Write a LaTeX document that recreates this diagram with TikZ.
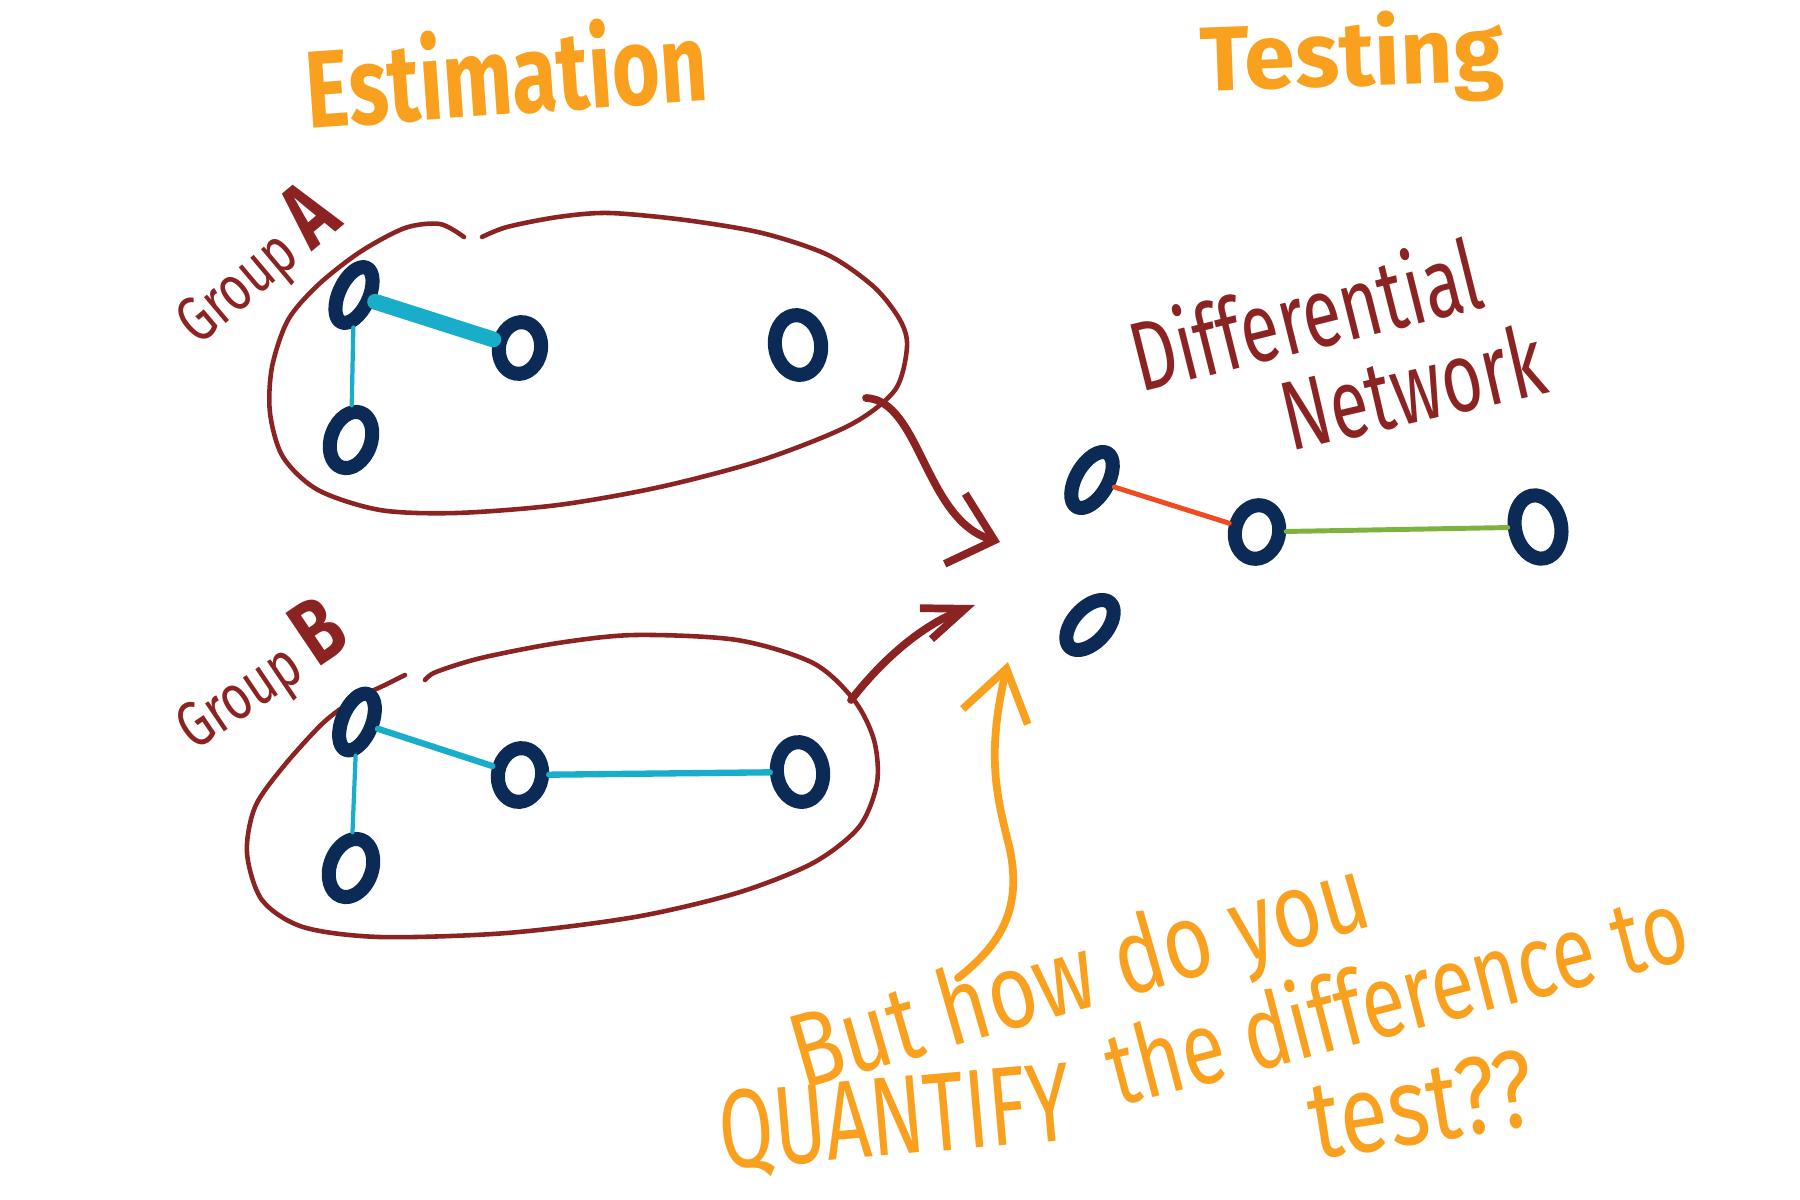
\documentclass[tikz,border=0pt]{standalone}
\usepackage{fontspec}
\setmainfont{Fira Sans}
\usepackage{graphicx}
\usetikzlibrary{arrows.meta,shapes.geometric}
\definecolor{sketchNavy}{HTML}{0B2A55}
\definecolor{sketchWine}{HTML}{8B2323}
\definecolor{sketchOrange}{HTML}{F9A11E}
\definecolor{sketchCyan}{HTML}{18AEC9}
\definecolor{sketchRed}{HTML}{F04A23}
\definecolor{sketchGreen}{HTML}{7DB23C}
\newcommand{\handtext}[3]{\scalebox{#1}[#2]{#3}}

\begin{document}
\begin{tikzpicture}[x=0.1mm,y=-0.1mm, line cap=round, line join=round,
    vtx/.style n args={3}{ellipse, draw=sketchNavy, line width=4pt, inner sep=0pt,
      minimum width=#1, minimum height=#2, rotate=#3},
    tie/.style={draw=sketchCyan, line width=#1},
    blob/.style={draw=sketchWine, line width=1.3pt},
    pointer/.style={draw=sketchWine, line width=2.2pt},
    heading/.style={text=sketchOrange, anchor=base, inner sep=0pt,
      font=\bfseries\fontsize{26}{30}\selectfont},
    redlabel/.style={text=sketchWine, anchor=base west, inner sep=0pt,
      font=\fontsize{14}{16}\selectfont},
    ask/.style={text=sketchOrange, anchor=base west, inner sep=0pt}]
  \fill[white] (0,0) rectangle (1800,1200);
  \useasboundingbox (0,0) rectangle (1800,1200);

  % headings
  \node[heading, rotate=4] (estim) at (509,114) {\handtext{0.9}{1.2}{Estimation}};
  \node[heading, rotate=2] (testing) at (1353,86) {Testing};

  % group A
  \draw[blob] plot[smooth] coordinates {(482,237) (507,227) (558,217) (609,213) (685,220)
    (762,233) (828,255) (874,287) (900,320) (907,347) (895,390) (850,425) (762,460)
    (660,487) (558,505) (456,513) (380,510) (318,490) (283,457) (270,413) (272,367)
    (288,320) (318,285) (360,252) (405,228) (440,224) (464,237)};
  \node[redlabel, rotate=40] (grpA) at (198,347)
    {\handtext{1}{1.3}{Group {\fontsize{20}{22}\selectfont\bfseries A}}};
  \node[vtx={3.0mm}{6.0mm}{-25}] (A1) at (354,295) {};
  \node[vtx={4.2mm}{5.2mm}{-10}] (A2) at (520,348) {};
  \node[vtx={4.6mm}{6.0mm}{8}] (A3) at (798,345) {};
  \node[vtx={4.0mm}{5.8mm}{-20}] (A4) at (351,440) {};
  \draw[tie=4.5pt] (A1) -- (A2);
  \draw[tie=1.2pt] (A1) -- (A4);

  % group B
  \draw[blob] plot[smooth] coordinates {(425,680) (436,672) (481,658) (558,643) (635,635)
    (737,640) (813,663) (854,700) (874,740) (877,783) (859,827) (813,863) (737,893)
    (635,917) (507,933) (380,937) (303,927) (262,900) (247,853) (255,807) (283,767)
    (323,723) (354,700) (385,685) (405,675)};
  \node[redlabel, rotate=34] (grpB) at (194,752)
    {\handtext{1}{1.3}{Group {\fontsize{20}{22}\selectfont\bfseries B}}};
  \node[vtx={3.0mm}{6.0mm}{-22}] (B1) at (357,722) {};
  \node[vtx={4.4mm}{5.4mm}{-10}] (B2) at (520,775) {};
  \node[vtx={4.6mm}{6.0mm}{8}] (B3) at (800,772) {};
  \node[vtx={4.2mm}{6.0mm}{-20}] (B4) at (351,868) {};
  \draw[tie=1.8pt] (B1) -- (B2);
  \draw[tie=1.8pt] (B2) -- (B3);
  \draw[tie=1.2pt] (B1) -- (B4);

  % differential network
  \node[redlabel, font=\fontsize{20}{22}\selectfont, rotate=14] (diffl) at (1140,393)
    {\handtext{1}{1.4}{Differential}};
  \node[redlabel, font=\fontsize{20}{22}\selectfont, rotate=13] (netl) at (1290,452)
    {\handtext{1}{1.4}{Network}};
  \node[vtx={3.2mm}{6.2mm}{-30}] (D1) at (1092,480) {};
  \node[vtx={4.4mm}{5.4mm}{-12}] (D2) at (1257,532) {};
  \node[vtx={4.6mm}{6.4mm}{12}] (D3) at (1538,527) {};
  \node[vtx={3.4mm}{6.0mm}{-42}] (D4) at (1090,625) {};
  \draw[draw=sketchRed, line width=1.4pt] (D1) -- (D2);
  \draw[draw=sketchGreen, line width=1.4pt] (D2) -- (D3);

  % arrows into the middle
  \coordinate (fromA) at (866,398);
  \coordinate (tipA) at (1000,542);
  \coordinate (fromB) at (851,700);
  \coordinate (tipB) at (975,605);
  \draw[pointer, -{Straight Barb[length=11.7pt,width=20.8pt]}]
    (fromA) .. controls (920,400) and (925,520) .. (tipA);
  \draw[pointer, -{Straight Barb[length=12pt,width=9.4pt]}]
    (fromB) .. controls (890,650) and (930,622) .. (tipB);

  % question
  \node[ask, font=\fontsize{24}{28}\selectfont, rotate=16] (ask1) at (802,1090)
    {\handtext{1}{1.25}{But how do you}};
  \node[ask, font=\fontsize{24.5}{28}\selectfont, rotate=5] (ask2) at (722,1170)
    {\handtext{0.92}{1.3}{QUANTIFY}};
  \node[ask, font=\fontsize{22.5}{26}\selectfont, rotate=14.5] (ask3) at (1117,1107)
    {\handtext{1}{1.3}{the difference to}};
  \node[ask, font=\fontsize{25}{28}\selectfont, rotate=9] (ask4) at (1315,1160)
    {\handtext{1}{1.25}{test??}};
  \coordinate (fromAsk) at (958,978);
  \coordinate (tipAsk) at (1008,662);
  \draw[pointer, draw=sketchOrange, -{Straight Barb[length=14pt,width=19pt]}]
    (fromAsk) .. controls (1000,945) and (1022,910) .. (1010,850)
    .. controls (998,800) and (985,760) .. (tipAsk);
\end{tikzpicture}
\end{document}
